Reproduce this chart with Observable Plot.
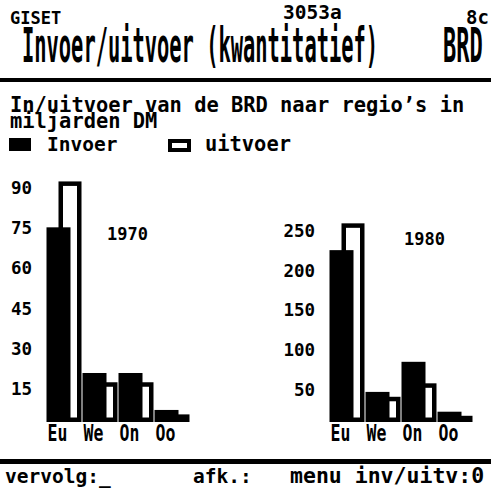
<!DOCTYPE html>
<html><head><meta charset="utf-8">
<script src="https://cdn.jsdelivr.net/npm/d3@7"></script>
<script src="https://cdn.jsdelivr.net/npm/@observablehq/plot@0.6"></script>
<style>
html,body{margin:0;padding:0;background:#fff;}
#screen{position:relative;width:491px;height:491px;overflow:hidden;background:#fff;}
#screen .p{position:absolute;}
</style></head><body><div id="screen"></div>
<script>
// ---- data ----
const regions = ["Eu", "We", "On", "Oo"];
const invoer1970 = [72.7, 18.3, 18.3, 4.5];
const uitvoer1970 = [89, 14, 14, 2];
const ticks1970 = [15, 30, 45, 60, 75, 90];
const invoer1980 = [217, 38, 76, 13];
const uitvoer1980 = [248, 29, 46, 5];
const ticks1980 = [50, 100, 150, 200, 250];
const years = ["1970", "1980"];
const seriesNames = ["Invoer", "uitvoer"];
const header = ["GISET", "3053a", "8c"];
const titleText = "Invoer/uitvoer (kwantitatief)";
const titleRight = "BRD";
const subtitle = ["In/uitvoer van de BRD naar regio\u2019s in", "miljarden DM"];
const footer = ["vervolg:_", "afk.:", "menu inv/uitv:0"];

const FONT = "DejaVu Sans Mono";
const screen = d3.select("#screen");

// ---- screen text layer ----
const bg = screen.append("svg").attr("class", "p")
  .attr("width", 491).attr("height", 491)
  .style("left", "0px").style("top", "0px")
  .attr("font-family", FONT).attr("font-weight", "bold").attr("fill", "#000");
function txt(s, x, y, size, sy = 1) {
  return bg.append("text").attr("transform", `translate(${x},${y}) scale(1,${sy})`)
    .attr("font-size", size).style("white-space", "pre").text(s);
}
txt(header[0], 10, 24, 17);
txt(header[1], 283, 19, 19.5);
txt(header[2], 466, 24, 19);
txt(titleText, 22, 62, 20.4, 2.35);
txt(titleRight, 443, 62, 22, 2.15);
bg.append("rect").attr("x", 0).attr("y", 78).attr("width", 491).attr("height", 4);
// two-line subtitle as one wrapped text
const sub = bg.append("text").attr("font-size", 20.4).style("white-space", "pre");
sub.selectAll("tspan").data(subtitle).join("tspan")
  .attr("x", 10).attr("y", (d, i) => 112 + i * 16).text(d => d);
bg.append("rect").attr("x", 9).attr("y", 138).attr("width", 22).attr("height", 13);
txt(seriesNames[0], 47, 151, 19.5);
bg.append("rect").attr("x", 170).attr("y", 141).attr("width", 19).attr("height", 9)
  .attr("fill", "#fff").attr("stroke", "#000").attr("stroke-width", 4);
txt(seriesNames[1], 205, 151, 20.4);
bg.append("rect").attr("x", 0).attr("y", 459).attr("width", 491).attr("height", 5);
txt(footer[0], 5, 483, 19.5);
txt(footer[1], 193, 483, 19.5);
txt(footer[2], 290, 483, 21.5);

// ---- charts ----
function chart(o) {
  const rows = regions.map((r, i) => ({region: r, invoer: o.inv[i], uitvoer: o.uit[i]}));
  const svg = Plot.plot({
    width: o.width, height: 290,
    marginLeft: o.marginLeft, marginRight: o.marginRight,
    marginTop: o.marginTop, marginBottom: 28,
    style: `font-family:${FONT};font-weight:bold;font-size:17px;color:#000;background:transparent;overflow:visible;`,
    x: {type: "band", domain: regions, padding: 0, label: null},
    y: {domain: [0, o.max], label: null},
    marks: [
      Plot.axisY({ticks: o.ticks, tickSize: 0, tickPadding: 6, dy: 7, label: null, fontSize: 17.5}),
      Plot.axisX({tickSize: 0, tickPadding: 2, label: null, fontSize: 16.5}),
      Plot.barY(rows, {x: "region", y: "uitvoer", fill: "#fff", stroke: "#000", strokeWidth: 4.5,
        insetLeft: 21.75, insetRight: -4.25, insetBottom: 2.25}),
      Plot.barY(rows, {x: "region", y: "invoer", fill: "#000", insetLeft: 7.5, insetRight: 4.5}),
      Plot.text([o.year], {frameAnchor: "top", text: d => d, dx: o.yearDx, dy: o.yearDy, fontSize: 17, fill: "#000"})
    ]
  });
  // stretch the category labels vertically like the screen font
  d3.select(svg).selectAll('g[aria-label="x-axis tick label"] text').each(function () {
    const t = this.getAttribute("transform");
    if (t) this.setAttribute("transform", t + " scale(1,1.4)");
    else {
      const x = +this.getAttribute("x") || 0, y = +this.getAttribute("y") || 0;
      this.removeAttribute("x"); this.removeAttribute("y");
      this.setAttribute("transform", `translate(${x},${y}) scale(1,1.4)`);
    }
  });
  const wrap = screen.append("div").attr("class", "p")
    .style("left", o.left + "px").style("top", "160px");
  wrap.node().appendChild(svg);
}

chart({inv: invoer1970, uit: uitvoer1970, ticks: ticks1970, max: 90, year: years[0],
  left: 0, width: 245, marginLeft: 37.65, marginRight: 60.55, marginTop: 21, yearDx: 16, yearDy: 46});
chart({inv: invoer1980, uit: uitvoer1980, ticks: ticks1980, max: 250, year: years[1],
  left: 245, width: 246, marginLeft: 75.65, marginRight: 23.55, marginTop: 64, yearDx: 30, yearDy: 8});
</script>
</body></html>
